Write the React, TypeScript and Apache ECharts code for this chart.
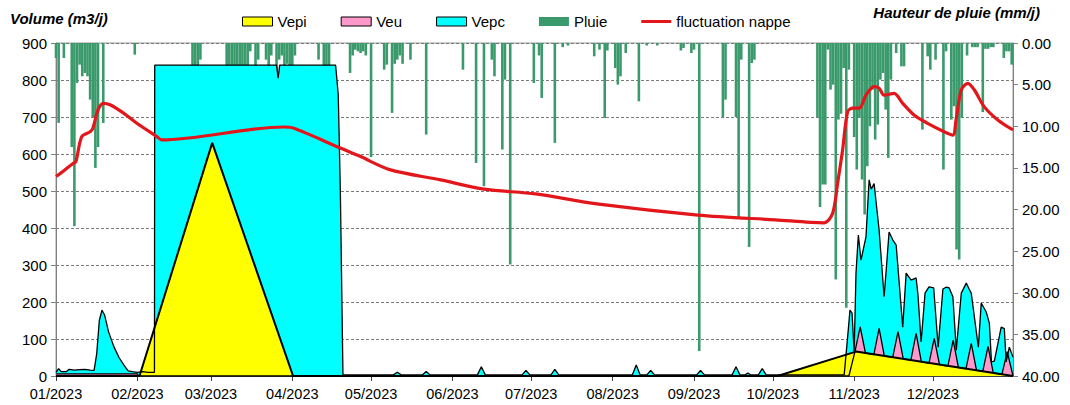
import React, { useEffect, useRef } from "react";
import * as echarts from "echarts";

// x = day of year 2023 (0 = 1 Jan)
const monthStarts = [0, 31, 59, 90, 120, 151, 181, 212, 243, 273, 304, 334];
const monthLabels = ["01/2023", "02/2023", "03/2023", "04/2023", "05/2023", "06/2023", "07/2023", "08/2023", "09/2023", "10/2023", "11/2023", "12/2023"];

// Pluie (mm/j), [day, mm]
const pluie: [number, number][] = [
  [0, 1.8], [1, 9.6], [3, 1.8], [6, 12.5], [7, 22], [8, 4.8], [9, 2.6], [10, 4], [11, 3.6], [12, 4], [13, 6.8], [14, 8.9], [15, 15], [16, 12.5], [18, 9.6], [30, 1.4],
  [52, 3.5], [53, 27], [54, 3.8], [55, 2],
  [65, 9.5], [66, 21], [67, 12.8], [68, 17.4], [69, 7], [70, 8.5], [71, 10], [72, 6], [73, 3], [74, 1], [76, 6.5], [77, 2], [80, 2], [81, 10.8], [82, 1.5], [84, 11], [85, 2], [86, 1.5], [87, 3], [88, 2.5], [89, 3], [90, 8.9], [91, 1.5],
  [100, 2], [102, 5], [103, 11.3], [104, 4], [112, 3.6], [113, 1.5], [114, 0.8], [115, 1], [116, 1.2], [117, 1], [118, 1.5], [120, 13.7],
  [125, 3.2], [126, 2.6], [128, 8.4], [129, 2.5], [130, 2], [131, 1.5], [132, 2.5], [135, 2], [141, 11],
  [155, 3.2], [160, 14.4], [163, 17.2], [166, 2], [167, 4], [170, 12.8], [171, 4.4], [173, 26.6],
  [182, 4.8], [184, 1.5], [185, 6.6], [190, 12], [193, 0.5], [195, 0.3], [205, 1.6], [207, 0.8], [209, 9], [210, 0.9],
  [213, 3], [214, 5], [215, 4], [217, 1.2], [222, 7], [225, 0.3], [229, 0.3], [238, 0.9], [239, 0.6], [242, 1.2], [243, 0.8], [245, 37],
  [254, 8.9], [255, 6.8], [259, 8.9], [260, 20.9], [261, 2], [264, 24.5], [265, 2.4], [266, 2],
  [290, 8.9], [291, 19.7], [292, 17], [293, 17], [294, 0.8], [295, 5.6], [296, 5], [297, 28.4], [298, 9.2], [299, 8.5], [300, 3], [301, 31.8], [302, 3.2],
  [304, 11.3], [305, 15.2], [306, 9], [307, 16.4], [308, 20.6], [309, 14.8], [310, 10], [311, 5.6], [312, 11.6], [313, 9.8], [314, 4.4], [315, 3.6], [316, 8], [317, 13.8], [318, 4.4], [320, 1.2], [322, 2.8], [323, 2.8],
  [330, 10.4], [332, 1.6], [333, 3.2], [335, 2], [338, 15.2], [339, 1], [341, 9.2], [342, 7.6], [343, 24.8], [344, 26], [345, 9], [347, 1.5], [349, 0.5], [350, 0.5], [351, 0.5], [353, 8.3], [354, 0.7], [355, 0.7], [356, 0.5], [357, 0.5], [361, 1.8], [362, 1], [363, 1], [364, 2.6],
];

// Vepc (m3/j)
const vepc: [number, number][] = [
  [0, 10], [1, 20], [2, 12], [4, 12], [5, 18], [7, 16], [9, 17], [11, 18], [13, 16], [14.5, 15], [15.5, 60], [16.5, 150], [17.5, 178], [18.5, 165], [20, 120], [22, 80], [24, 50], [26, 28], [27.5, 14], [29, 12], [31, 10], [33, 12], [35, 10], [37.5, 10],
  [37.6, 840], [84, 840], [84.6, 805], [85.2, 840], [106.5, 840], [107.5, 760], [108.3, 500], [109.3, 3],
  [128.5, 3], [130, 10], [131.5, 3], [139.5, 3], [141, 12], [142.5, 3], [160.5, 3], [162, 25], [163.5, 3], [177.5, 3], [179, 15], [180.5, 3], [188.5, 3], [190, 18], [191.5, 3],
  [219.5, 3], [221, 30], [222.5, 3], [225, 3], [226.5, 15], [228, 3], [244, 3], [245.5, 15], [247, 3], [257.5, 3], [259, 25], [260.5, 3], [262.5, 3], [263.5, 8], [264.5, 3], [267.5, 3], [269, 20], [270.5, 3],
  [300.2, 3], [301.7, 120], [302.4, 178], [303.2, 170], [304, 65], [304.7, 278], [305.6, 381], [306.6, 313], [308.5, 376], [309.7, 530], [310.5, 505], [311.6, 520], [313.5, 395], [315.4, 214], [316.2, 286], [317.3, 389], [318.7, 368], [320, 354], [322.5, 132], [323.8, 278], [325.7, 259], [327.6, 265], [328.3, 220], [329.5, 92], [331, 224], [332.5, 241], [334.3, 238], [336, 78], [337.8, 235], [339, 240], [340.2, 238], [341.6, 214], [342.9, 70], [344.8, 224], [346.7, 251], [347.8, 235], [348.6, 224], [351.3, 78], [352.4, 197], [354.3, 173], [355.5, 143], [356.3, 38], [357.4, 40], [360, 132], [361.2, 128], [361.9, 38], [363.1, 78], [364.5, 51],
];

// Veu (m3/j)
const veu: [number, number][] = [
  [0, 6], [31, 6], [31.5, 0], [302, 0],
  [304.3, 66], [306.3, 133], [308.3, 62], [311.5, 58], [313.5, 129], [315.5, 54], [318.7, 51], [320.7, 120], [322.7, 46], [325.6, 43], [327.6, 115], [329.6, 38], [332.5, 35], [334.5, 102], [336.5, 31], [339.7, 27], [341.7, 97], [343.7, 23], [346.6, 20], [348.6, 88], [350.6, 15], [353, 13], [355, 80], [357, 8], [360.3, 5], [362.3, 66], [364.5, 0],
];

// Vepi (m3/j)
const vepi: [number, number][] = [
  [0, 0], [31.8, 0], [59.5, 630], [90.3, 0], [274.8, 0], [304.7, 66], [364.5, 0],
];

// fluctuation nappe (left scale)
const nappe: [number, number][] = [
  [0, 539], [3, 555], [6.6, 575], [7.6, 580], [9.8, 647], [13, 660], [14, 669], [16, 719], [18, 737], [20.6, 733], [25.6, 711], [30.8, 683], [38.4, 647], [40.3, 638],
  [86.6, 673], [90.4, 670], [108.3, 616], [116, 593], [127.4, 557], [146.5, 530], [163, 505], [182.7, 492], [206, 465], [244.5, 435], [274, 422], [292.6, 414],
  [295.8, 440], [297.7, 521], [299.6, 611], [301.5, 714], [303.5, 724], [306, 724], [308.5, 759], [311.6, 782], [313.5, 778], [315.4, 759], [319.2, 764], [322.5, 737], [326.9, 705], [332, 683], [338.3, 660], [341.6, 651],
  [342.8, 692], [344.8, 773], [347.3, 791], [349.8, 773], [353.5, 728], [358.7, 692], [364.5, 665],
];

const FONT = "Liberation Sans, Arial, sans-serif";
const C_YELLOW = "#ffff00";
const C_PINK = "#ff99cc";
const C_CYAN = "#00ffff";
const C_GREEN = "#3a9a6c";
const C_RED = "#e3171b";

export default function App() {
  const ref = useRef<HTMLDivElement>(null);
  useEffect(() => {
    if (!ref.current) return;
    const chart = echarts.init(ref.current, null, { renderer: "svg" });
    const areaSeries = (name: string, data: [number, number][], color: string, lw: number) => ({
      name,
      type: "line",
      data,
      yAxisIndex: 0,
      symbol: "none",
      itemStyle: { color },
      lineStyle: { color: "#000", width: lw },
      areaStyle: { color, opacity: 1 },
    });
    chart.setOption({
      animation: false,
      textStyle: { fontFamily: FONT },
      grid: { left: 56, right: 57, top: 43, bottom: 29, show: true, borderColor: "#9a9a9a", borderWidth: 1 },
      legend: {
        left: 237,
        top: 9,
        itemWidth: 30,
        itemHeight: 9,
        itemGap: 34,
        textStyle: { fontSize: 15, color: "#000", fontFamily: FONT },
        data: [
          { name: "Vepi", icon: "rect", itemStyle: { color: C_YELLOW, borderColor: "#000", borderWidth: 1 } },
          { name: "Veu", icon: "rect", itemStyle: { color: C_PINK, borderColor: "#000", borderWidth: 1 } },
          { name: "Vepc", icon: "rect", itemStyle: { color: C_CYAN, borderColor: "#000", borderWidth: 1 } },
          { name: "Pluie", icon: "rect", itemStyle: { color: C_GREEN, borderWidth: 0 } },
          { name: "fluctuation nappe", icon: "path://M0,0L30,0L30,3L0,3Z", itemStyle: { color: C_RED, borderWidth: 0 } },
        ],
      },
      graphic: [
        { type: "text", left: 10, top: 11, style: { text: "Volume (m3/j)", fontSize: 15, fontWeight: "bold", fontStyle: "italic", fontFamily: FONT, fill: "#000" } },
        { type: "text", right: 30, top: 5, style: { text: "Hauteur de pluie (mm/j)", fontSize: 15, fontWeight: "bold", fontStyle: "italic", fontFamily: FONT, fill: "#000" } },
      ],
      xAxis: {
        type: "value",
        min: 0,
        max: 364.5,
        splitLine: { show: false },
        axisLine: { lineStyle: { color: "#404040", width: 1 } },
        axisTick: { show: true, length: 5, customValues: monthStarts, lineStyle: { color: "#404040" } },
        axisLabel: {
          customValues: monthStarts,
          fontSize: 14.5,
          color: "#000",
          margin: 10,
          formatter: (v: number) => {
            const i = monthStarts.indexOf(Math.round(v));
            return i >= 0 ? monthLabels[i] : "";
          },
        },
      },
      yAxis: [
        {
          type: "value",
          min: 0,
          max: 900,
          interval: 100,
          axisLine: { show: true, lineStyle: { color: "#808080" } },
          axisTick: { show: true, length: 5, lineStyle: { color: "#808080" } },
          axisLabel: { fontSize: 15, color: "#000", margin: 9 },
          splitLine: { show: true, lineStyle: { color: "#7a7a7a", type: [3, 2], width: 1 } },
        },
        {
          type: "value",
          min: 0,
          max: 40,
          interval: 5,
          inverse: true,
          position: "right",
          axisLine: { show: true, lineStyle: { color: "#808080" } },
          axisTick: { show: true, length: 5, lineStyle: { color: "#808080" } },
          axisLabel: { fontSize: 15, color: "#000", margin: 9, formatter: (v: number) => v.toFixed(2) },
          splitLine: { show: false },
        },
      ],
      series: [
        areaSeries("Vepc", vepc, C_CYAN, 1.3),
        areaSeries("Veu", veu, C_PINK, 1.3),
        areaSeries("Vepi", vepi, C_YELLOW, 2),
        {
          name: "Pluie",
          type: "bar",
          yAxisIndex: 1,
          data: pluie,
          barWidth: 2.6,
          itemStyle: { color: C_GREEN },
        },
        {
          name: "fluctuation nappe",
          type: "line",
          yAxisIndex: 0,
          data: nappe,
          symbol: "none",
          smooth: 0.3,
          itemStyle: { color: C_RED },
          lineStyle: { color: C_RED, width: 3.2 },
        },
      ],
    });
    return () => chart.dispose();
  }, []);
  return <div ref={ref} style={{ position: "fixed", left: 0, top: 0, width: 1070, height: 405, background: "#fff" }} />;
}
